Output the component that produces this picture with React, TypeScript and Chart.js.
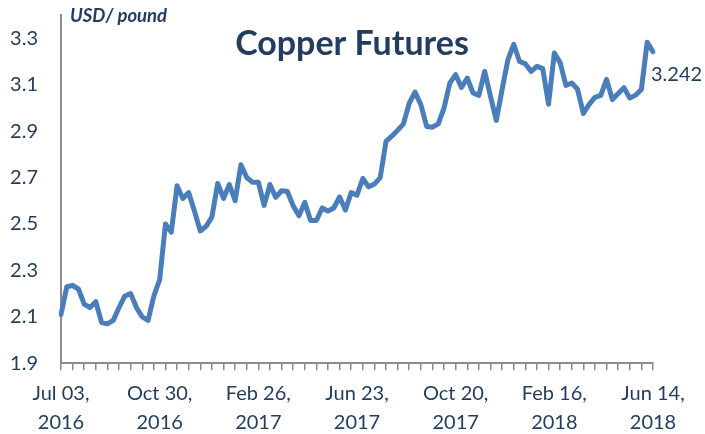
import { useEffect, useRef } from 'react';
import { Chart, registerables } from 'chart.js';

Chart.register(...registerables);

// ---- data ----
const tickLabels: string[][] = [
  ['Jul 03,', '2016'],
  ['Oct 30,', '2016'],
  ['Feb 26,', '2017'],
  ['Jun 23,', '2017'],
  ['Oct 20,', '2017'],
  ['Feb 16,', '2018'],
  ['Jun 14,', '2018'],
];
const labelEvery = 17;

const prices: number[] = [
  2.11, 2.23, 2.235, 2.22, 2.155, 2.14, 2.165, 2.075, 2.07, 2.085,
  2.14, 2.19, 2.2, 2.14, 2.1, 2.085, 2.19, 2.26, 2.5, 2.465,
  2.665, 2.61, 2.635, 2.555, 2.47, 2.49, 2.53, 2.675, 2.61, 2.67,
  2.6, 2.755, 2.7, 2.68, 2.68, 2.58, 2.67, 2.615, 2.643, 2.64,
  2.578, 2.535, 2.593, 2.515, 2.515, 2.569, 2.556, 2.569, 2.616, 2.56,
  2.635, 2.624, 2.696, 2.66, 2.672, 2.7, 2.856, 2.878, 2.904, 2.931,
  3.02, 3.068, 3.014, 2.92, 2.917, 2.931, 3.0, 3.107, 3.143, 3.088,
  3.128, 3.064, 3.054, 3.157, 3.05, 2.946, 3.079, 3.207, 3.274, 3.2,
  3.19, 3.157, 3.179, 3.169, 3.016, 3.236, 3.195, 3.097, 3.107, 3.08,
  2.976, 3.015, 3.045, 3.054, 3.123, 3.036, 3.062, 3.087, 3.042, 3.055,
  3.079, 3.283, 3.242,
];

const yTicks: number[] = [1.9, 2.1, 2.3, 2.5, 2.7, 2.9, 3.1, 3.3];
const yMin = 1.9;
const yMax = 3.4;
const lastLabel = '3.242';
const titleText = 'Copper Futures';
const unitText = 'USD/ pound';

// ---- styles ----
const NAVY = '#233d5e';
const LINE = '#4a7ebb';
const AXIS = '#8c8c8c';
const FONT = 'Lato';

const categories = prices.map((_, i) =>
  i % labelEvery === 0 && tickLabels[i / labelEvery] ? tickLabels[i / labelEvery] : ''
);

const textPlugin = {
  id: 'extraTexts',
  afterDraw(chart: any) {
    const ctx = chart.ctx;
    ctx.save();
    ctx.fillStyle = NAVY;
    ctx.textBaseline = 'alphabetic';
    ctx.textAlign = 'center';
    ctx.font = `bold 34px ${FONT}`;
    ctx.fillText(titleText, 352, 55);
    ctx.textAlign = 'left';
    ctx.font = `italic bold 18.5px ${FONT}`;
    ctx.fillText(unitText, 70, 22);
    const meta = chart.getDatasetMeta(0);
    const pt = meta.data[meta.data.length - 1];
    if (pt) {
      ctx.font = `20px ${FONT}`;
      ctx.fillText(lastLabel, pt.x - 2, pt.y + 29);
    }
    ctx.restore();
  },
};

export default function App() {
  const ref = useRef<HTMLCanvasElement | null>(null);

  useEffect(() => {
    if (!ref.current) return;
    const chart = new Chart(ref.current, {
      type: 'line',
      data: {
        labels: categories as any,
        datasets: [
          {
            data: prices,
            borderColor: LINE,
            borderWidth: 5,
            pointRadius: 0,
            tension: 0,
            borderJoinStyle: 'round',
            borderCapStyle: 'round',
            fill: false,
          },
        ],
      },
      options: {
        animation: false,
        responsive: false,
        maintainAspectRatio: false,
        layout: { padding: { top: 15, right: 52, left: 0, bottom: 0 }, autoPadding: false },
        plugins: {
          legend: { display: false },
          tooltip: { enabled: false },
          title: { display: false },
        },
        scales: {
          x: {
            type: 'category',
            offset: false,
            afterFit: (scale: any) => {
              scale.height = 70.7;
              scale.paddingLeft = 0;
              scale.paddingRight = 0;
            },
            grid: {
              display: true,
              drawOnChartArea: false,
              drawTicks: true,
              tickLength: 7,
              lineWidth: 1.5,
              tickColor: (ctx: any) => (ctx.index % 2 === 0 ? AXIS : 'rgba(0,0,0,0)'),
            },
            border: { display: true, color: AXIS, width: 2 },
            ticks: {
              autoSkip: false,
              maxRotation: 0,
              minRotation: 0,
              padding: 9,
              color: NAVY,
              font: { family: FONT, size: 20, lineHeight: 1.45 },
            },
          },
          y: {
            type: 'linear',
            min: yMin,
            max: yMax,
            afterFit: (scale: any) => {
              scale.width = 61;
              scale.paddingTop = 0;
              scale.paddingBottom = 0;
            },
            afterBuildTicks: (scale: any) => {
              scale.ticks = yTicks.map((v) => ({ value: v }));
            },
            grid: { display: false, drawTicks: false },
            border: { display: true, color: AXIS, width: 2 },
            ticks: {
              padding: 23,
              color: NAVY,
              font: { family: FONT, size: 20 },
              callback: (v: any) => Number(v).toFixed(1),
            },
          },
        },
      },
      plugins: [textPlugin],
    });
    return () => chart.destroy();
  }, []);

  return (
    <div style={{ position: 'fixed', left: 0, top: 0, width: 705, height: 434, background: '#fff' }}>
      <canvas ref={ref} width={705} height={434} style={{ width: 705, height: 434, display: 'block' }} />
    </div>
  );
}
